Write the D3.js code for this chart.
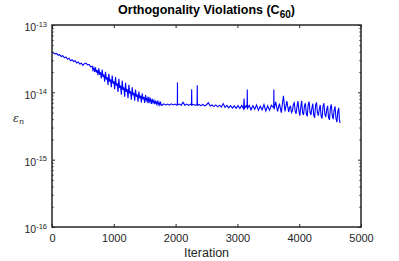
<!DOCTYPE html>
<html>
<head>
<meta charset="utf-8">
<script src="https://cdn.jsdelivr.net/npm/d3@7"></script>
<style>
body { margin: 0; background: #fff; }
svg { font-family: "Liberation Sans", Arial, sans-serif; }
.axis path { display: none; }
.axis line { stroke: #262626; stroke-width: 1; }
.axis text { fill: #262626; }
</style>
</head>
<body>
<svg id="chart" width="399" height="261"></svg>
<script>

var width = 399,
    height = 261;

// epsilon_n values are in units of 1e-15

// slow decay, iterations 0..625
var earlyIt = [0, 25, 50, 75, 100, 125, 150, 175, 200, 225, 250, 275, 300, 325, 350, 375,
  400, 425, 450, 475, 500, 525, 550, 575, 600, 625];
var earlyEps = [40.0, 38.3, 37.2, 37.9, 35.4, 36.3, 34.0, 34.9, 32.5, 33.5, 31.1, 32.0, 29.5, 30.5, 28.6, 29.4,
  27.3, 28.2, 26.3, 27.1, 25.1, 26.6, 27.2, 25.5, 25.9, 23.9];

// oscillating descent, iterations 650..1770
var rippleIt = [650, 663, 677, 690, 704, 717, 731, 744, 758, 771, 785, 798, 812, 825, 839, 852,
  866, 879, 893, 906, 920, 933, 947, 960, 974, 987, 1001, 1014, 1028, 1041, 1055, 1068,
  1082, 1095, 1109, 1122, 1136, 1149, 1163, 1176, 1190, 1203, 1217, 1230, 1244, 1257, 1271, 1284,
  1298, 1311, 1325, 1338, 1352, 1365, 1379, 1392, 1406, 1419, 1433, 1446, 1460, 1473, 1487, 1500,
  1514, 1527, 1541, 1554, 1568, 1581, 1595, 1608, 1622, 1635, 1649, 1662, 1676, 1689, 1703, 1716,
  1730, 1743, 1757, 1770];
var rippleEps = [24.4, 21.3, 23.1, 20.2, 23.5, 19.7, 21.4, 18.0, 22.7, 18.3, 19.9, 16.1, 21.7, 17.0, 18.4, 14.4,
  20.2, 15.5, 16.8, 12.9, 18.8, 14.4, 15.6, 11.9, 17.8, 13.5, 14.6, 11.1, 16.9, 12.6, 13.6, 10.1,
  15.9, 11.6, 12.6, 9.25, 14.9, 10.9, 11.8, 8.59, 13.9, 10.2, 11.1, 8.17, 12.9, 9.6, 10.4, 7.78,
  11.9, 9.06, 9.82, 7.49, 11.0, 8.58, 9.30, 7.26, 10.3, 8.20, 8.89, 7.09, 9.63, 7.86, 8.52, 6.97,
  9.08, 7.59, 8.22, 6.88, 8.54, 7.29, 7.90, 6.76, 8.02, 7.02, 7.60, 6.67, 7.55, 6.74, 7.30, 6.53,
  7.21, 6.52, 7.06, 6.40];

// plateau with spikes, iterations 1784..3800
var plateauIt = [1784, 1810, 1840, 1870, 1900, 1930, 1960, 1990, 2020, 2028, 2030, 2032, 2060, 2090,
  2120, 2150, 2180, 2210, 2240, 2257, 2260, 2263, 2290, 2320, 2347, 2350, 2353, 2380,
  2410, 2440, 2470, 2500, 2530, 2560, 2590, 2620, 2650, 2680, 2710, 2740, 2770, 2800,
  2830, 2860, 2890, 2920, 2950, 2980, 3010, 3040, 3070, 3100, 3108, 3115, 3140, 3157,
  3160, 3163, 3190, 3220, 3250, 3280, 3310, 3340, 3370, 3400, 3430, 3460, 3490, 3520,
  3550, 3587, 3590, 3593, 3620, 3650, 3680, 3710, 3745, 3770, 3800];
var plateauEps = [6.45, 6.75, 6.50, 6.70, 6.45, 6.75, 6.50, 6.70, 6.45, 6.60, 14.0, 6.50, 6.70, 6.45,
  7.10, 6.45, 6.70, 6.40, 6.65, 6.50, 11.1, 6.45, 6.65, 6.40, 6.60, 12.7, 6.40, 6.60,
  6.35, 6.60, 6.30, 6.55, 7.00, 6.25, 6.50, 6.15, 6.50, 6.10, 6.45, 6.05, 6.80, 6.00,
  6.40, 5.90, 6.35, 5.85, 6.30, 5.80, 6.35, 5.75, 6.40, 5.70, 8.10, 5.80, 6.30, 5.90,
  11.0, 5.80, 6.40, 5.50, 6.30, 5.60, 6.50, 5.40, 6.20, 5.50, 6.60, 5.30, 6.30, 5.40,
  6.40, 5.90, 11.0, 5.60, 7.20, 5.20, 6.80, 5.00, 8.90, 5.20, 7.40];

// noisy tail, iterations 3830..4660
var tailIt = [3830, 3845, 3860, 3875, 3890, 3905, 3920, 3935, 3950, 3965, 3980, 3995, 4010, 4025,
  4040, 4055, 4070, 4085, 4100, 4115, 4130, 4145, 4160, 4175, 4190, 4205, 4220, 4235, 4250, 4265,
  4280, 4295, 4310, 4325, 4340, 4355, 4370, 4385, 4400, 4415, 4430, 4445, 4460, 4475, 4490, 4505,
  4520, 4535, 4550, 4565, 4580, 4595, 4610, 4625, 4640, 4650, 4660];
var tailEps = [5.1, 6.0, 6.2, 5.0, 5.3, 6.6, 7.0, 5.2, 4.8, 6.2, 7.4, 5.4, 4.5, 6.0,
  7.5, 5.0, 4.6, 6.3, 6.9, 4.8, 4.4, 6.5, 7.3, 5.1, 4.6, 5.8, 6.8, 4.6, 4.2, 6.4,
  7.1, 5.0, 4.5, 5.6, 6.5, 4.4, 4.1, 6.2, 6.9, 4.8, 4.3, 5.5, 6.3, 4.2, 3.9, 5.9,
  6.6, 4.5, 4.0, 5.4, 6.2, 4.1, 3.6, 5.2, 5.9, 4.0, 3.5];

var xTicks = [0, 1000, 2000, 3000, 4000, 5000];
var yTicks = [1e-16, 1e-15, 1e-14, 1e-13];
var yExps = ["-16", "-15", "-14", "-13"];

var mLeft = 52, mRight = 361, mTop = 25, mBottom = 227;

var x = d3.scaleLinear().domain([0, 5000]).range([mLeft, mRight]);
var y = d3.scaleLog().domain([1e-16, 1e-13]).range([mBottom, mTop]);

var svg = d3.select("#chart");

// minor ticks for the log axis
var minor = [];
yTicks.slice(0, 3).forEach(function(d) {
  for (var k = 2; k <= 9; k++) minor.push(d * k);
});

var iters = earlyIt.concat(rippleIt, plateauIt, tailIt);
var eps15 = earlyEps.concat(rippleEps, plateauEps, tailEps);
var data = iters.map(function(it, i) { return [it, eps15[i] * 1e-15]; });

var line = d3.line()
    .x(function(d) { return x(d[0]); })
    .y(function(d) { return y(d[1]); });

svg.append("path")
    .datum(data)
    .attr("d", line)
    .attr("fill", "none")
    .attr("stroke", "#0000ff")
    .attr("stroke-width", 1.1);

// x axes
var xb = svg.append("g").attr("class", "axis")
    .attr("transform", "translate(0," + mBottom + ")")
    .call(d3.axisBottom(x).tickValues(xTicks).tickSizeInner(-3).tickSizeOuter(0).tickPadding(7)
      .tickFormat(d3.format("d")));
xb.selectAll("text").attr("font-size", "11px");

svg.append("g").attr("class", "axis")
    .attr("transform", "translate(0," + mTop + ")")
    .call(d3.axisTop(x).tickValues(xTicks).tickSizeInner(-3).tickSizeOuter(0).tickFormat(""));

// y axes, major
var yl = svg.append("g").attr("class", "axis")
    .attr("transform", "translate(" + mLeft + ",0)")
    .call(d3.axisLeft(y).tickValues(yTicks).tickSizeInner(-3).tickSizeOuter(0).tickPadding(5)
      .tickFormat(function() { return ""; }));

yl.selectAll(".tick text").each(function(d, i) {
  var t = d3.select(this).attr("dy", "0.55em").attr("font-size", "10.5px");
  t.append("tspan").text("10");
  t.append("tspan").attr("dy", "-0.6em").attr("font-size", "7.5px").text(yExps[i]);
});

svg.append("g").attr("class", "axis")
    .attr("transform", "translate(" + mRight + ",0)")
    .call(d3.axisRight(y).tickValues(yTicks).tickSizeInner(-3).tickSizeOuter(0).tickFormat(""));

// y axes, minor
svg.append("g").attr("class", "axis")
    .attr("transform", "translate(" + mLeft + ",0)")
    .call(d3.axisLeft(y).tickValues(minor).tickSizeInner(-1.6).tickSizeOuter(0).tickFormat(""));

svg.append("g").attr("class", "axis")
    .attr("transform", "translate(" + mRight + ",0)")
    .call(d3.axisRight(y).tickValues(minor).tickSizeInner(-1.6).tickSizeOuter(0).tickFormat(""));

// box
svg.append("rect")
    .attr("x", mLeft).attr("y", mTop)
    .attr("width", mRight - mLeft).attr("height", mBottom - mTop)
    .attr("fill", "none")
    .attr("stroke", "#262626")
    .attr("stroke-width", 1.5);

// title
var title = svg.append("text")
    .attr("x", (mLeft + mRight) / 2)
    .attr("y", 14)
    .attr("text-anchor", "middle")
    .attr("font-size", "12.5px")
    .attr("font-weight", "bold")
    .attr("fill", "#000");
title.append("tspan").text("Orthogonality Violations (C");
title.append("tspan").attr("dy", "4").attr("font-size", "10px").text("60");
title.append("tspan").attr("dy", "-4").text(")");

// x label
svg.append("text")
    .attr("x", (mLeft + mRight) / 2)
    .attr("y", 257)
    .attr("text-anchor", "middle")
    .attr("font-size", "12.5px")
    .attr("fill", "#262626")
    .text("Iteration");

// y label
var ylab = svg.append("text")
    .attr("x", 13)
    .attr("y", 122)
    .attr("font-family", "'DejaVu Serif', 'Liberation Serif', serif")
    .attr("font-style", "italic")
    .attr("font-size", "11px")
    .attr("fill", "#262626");
ylab.append("tspan").text("\u03b5");
ylab.append("tspan").attr("dy", "2").attr("font-size", "8px").text("n");

</script>
</body>
</html>
